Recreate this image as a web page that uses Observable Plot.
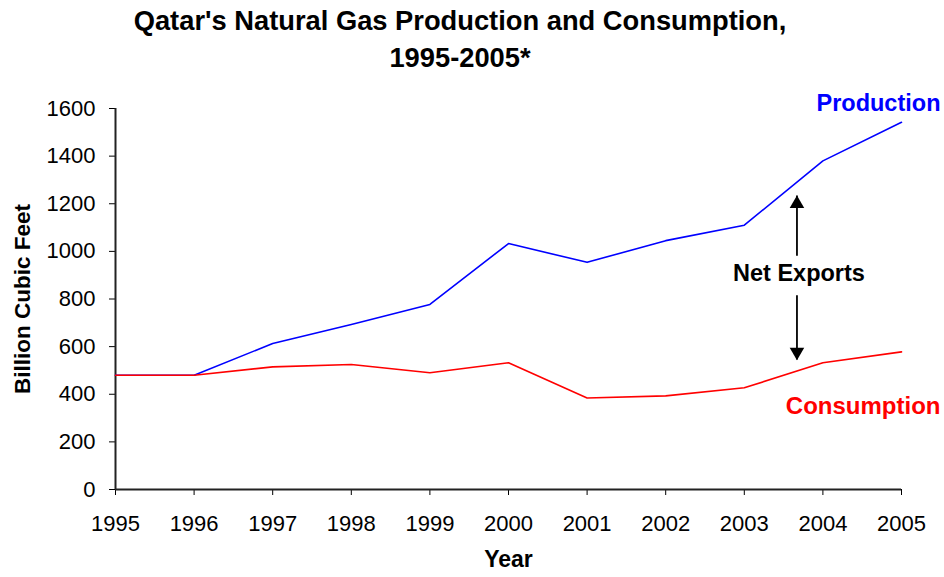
<!DOCTYPE html>
<html><head><meta charset="utf-8">
<script src="https://cdn.jsdelivr.net/npm/d3@7"></script>
<script src="https://cdn.jsdelivr.net/npm/@observablehq/plot@0.6"></script>
<style>
body{margin:0;background:#fff;font-family:"Liberation Sans",Arial,sans-serif;}
#title{width:920px;height:80px;text-align:center;font-weight:bold;font-size:27.3px;line-height:37px;padding-top:2px;box-sizing:border-box;color:#000;}
</style></head><body>
<div id="title">Qatar's Natural Gas Production and Consumption,<br>1995-2005*</div>
<div id="chart"></div>
<script>
const years = [1995, 1996, 1997, 1998, 1999, 2000, 2001, 2002, 2003, 2004, 2005];
const production = [480, 480, 613, 693, 777, 1033, 954, 1045, 1110, 1380, 1542];
const consumption = [480, 480, 515, 525, 490, 532, 384, 393, 427, 532, 578];
const yTicks = [0, 200, 400, 600, 800, 1000, 1200, 1400, 1600];
const seriesNames = ["Production", "Consumption"];
const annotationText = "Net Exports";
const yAxisTitle = "Billion Cubic Feet";
const xAxisTitle = "Year";

const rows = years.map((yr, i) => ({year: yr, production: production[i], consumption: consumption[i]}));
const last = rows[rows.length - 1];

// annotation between 2003 and 2004
const i0 = years.indexOf(2003);
const frac = 0.67;
const netX = years[i0] + frac;
const prodAt = production[i0] + frac * (production[i0 + 1] - production[i0]);
const consAt = consumption[i0] + frac * (consumption[i0 + 1] - consumption[i0]);
const mid = (prodAt + consAt) / 2 + 15;
const arrows = [
  {x: netX, from: mid + 70, to: prodAt - 58, dir: "up"},
  {x: netX, from: mid - 96, to: consAt + 47, dir: "down"}
];

const font = '"Liberation Sans", Arial, sans-serif';

const chart = Plot.plot({
  width: 944,
  height: 497,
  marginLeft: 115,
  marginRight: 43,
  marginTop: 28,
  marginBottom: 88,
  style: {fontFamily: font, fontSize: "22px", color: "#000", background: "#fff", overflow: "visible"},
  x: {domain: [1995, 2005], ticks: years, tickFormat: d => String(d), tickSize: 6, tickPadding: 20, label: null},
  y: {domain: [0, 1600], ticks: yTicks, tickFormat: d => String(d), tickSize: 6, tickPadding: 14, label: null},
  marks: [
    Plot.ruleX([1995], {y1: 0, y2: 1600, stroke: "#222", strokeWidth: 2}),
    Plot.ruleY([0], {x1: 1995, x2: 2005, stroke: "#222", strokeWidth: 2}),
    Plot.line(rows, {x: "year", y: "production", stroke: "#0000ff", strokeWidth: 1.6}),
    Plot.line(rows, {x: "year", y: "consumption", stroke: "#ff0000", strokeWidth: 1.6}),
    Plot.text([last], {x: "year", y: "production", text: () => seriesNames[0], textAnchor: "end", dx: 39, dy: -19, fill: "#0000ff", fontWeight: "bold", fontSize: 23.5}),
    Plot.text([last], {x: "year", y: "consumption", text: () => seriesNames[1], textAnchor: "end", dx: 39, dy: 54, fill: "#ff0000", fontWeight: "bold", fontSize: 24}),
    Plot.text([{x: netX, y: mid}], {x: "x", y: "y", text: () => annotationText, fill: "#000", fontWeight: "bold", fontSize: 23.5, dx: 2}),
    Plot.ruleX(arrows, {x: "x", y1: "from", y2: "to", stroke: "#000", strokeWidth: 1.8}),
    Plot.dot(arrows.filter(a => a.dir === "up"), {x: "x", y: "to", symbol: "triangle", r: 5.4, fill: "#000", stroke: null, dy: 8}),
    Plot.dot(arrows.filter(a => a.dir === "down"), {x: "x", y: "to", symbol: "triangle", r: 5.4, fill: "#000", stroke: null, rotate: 180, dy: -8}),
    Plot.text([yAxisTitle], {frameAnchor: "left", textAnchor: "middle", text: d => d, rotate: -90, dx: -93, fontWeight: "bold", fontSize: 22.5}),
    Plot.text([xAxisTitle], {frameAnchor: "bottom", text: d => d, dy: 77, fontWeight: "bold", fontSize: 23})
  ]
});
document.getElementById("chart").appendChild(chart);
</script>
</body></html>
